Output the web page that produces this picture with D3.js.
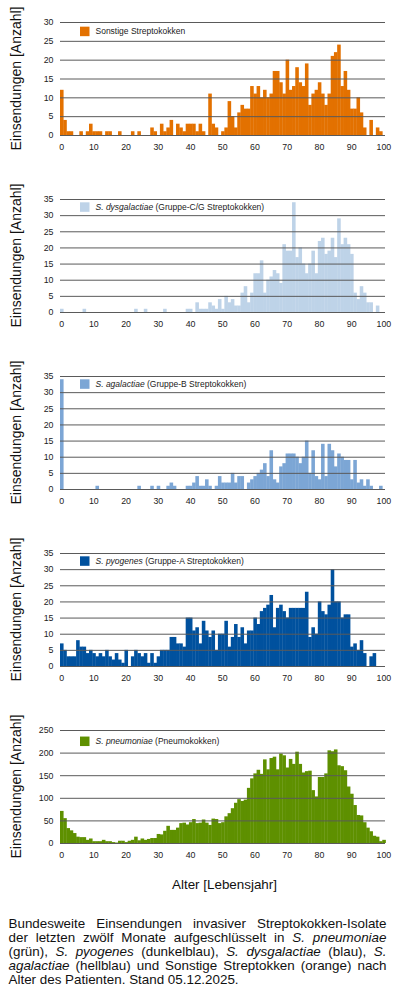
<!DOCTYPE html>
<html><head><meta charset="utf-8">
<script src="https://cdn.jsdelivr.net/npm/d3@7"></script>
<style>body{margin:0;background:#fff}svg{display:block}</style>
</head><body>
<svg id="c" width="400" height="997"></svg>
<script>
const ages = d3.range(0, 101);
const xTicks = [0,10,20,30,40,50,60,70,80,90,100];
const ticks30 = [0,5,10,15,20,25,30];
const ticks35 = [0,5,10,15,20,25,30,35];
const ticks250 = [0,50,100,150,200,250];

const sonstige = [12,4,1,1,0,0,1,0,1,3, 1,1,1,0,1,1,0,0,1,0, 0,0,1,0,1,0,0,0,2,1, 0,3,1,2,4,0,3,2,1,3, 3,3,1,3,1,0,11,3,2,0, 1,2,9,5,2,6,8,7,7,13, 11,13,10,12,10,11,17,17,14,11, 20,12,13,18,14,13,19,8,11,12, 14,11,8,11,21,22,24,13,17,12, 7,7,10,6,2,0,4,0,2,1, 0];
const dysgalactiae = [1,0,0,0,0,0,0,1,0,0, 0,0,0,0,0,0,0,0,0,0, 0,0,0,1,0,0,1,0,0,0, 0,0,1,0,0,0,0,0,0,1, 1,0,3,1,1,1,3,2,1,4, 1,5,3,4,2,2,6,8,3,6, 12,12,16,6,10,11,13,12,9,21, 19,19,34,17,20,15,12,15,19,12, 22,23,18,19,23,17,29,21,23,21, 18,6,4,8,6,3,3,0,2,0, 0];
const agalactiae = [34,0,0,0,0,0,0,0,0,0, 0,1,0,0,0,0,0,0,0,0, 0,0,0,0,1,0,0,0,1,0, 1,0,0,1,2,1,0,0,0,1, 1,2,4,1,1,3,1,0,1,4, 2,2,2,5,2,4,4,0,2,3, 4,5,6,8,4,12,3,2,7,8, 11,11,11,10,8,10,15,5,12,4, 3,14,4,14,12,7,11,10,9,9, 3,9,2,3,1,3,1,0,0,1, 0];
const pyogenes = [7,5,3,3,3,8,6,6,4,5, 4,3,4,3,5,3,2,4,2,1, 5,0,3,5,4,3,4,1,4,1, 3,5,5,5,9,9,7,7,6,15, 15,11,12,7,14,11,9,11,5,10, 10,14,6,9,13,9,12,7,11,11, 15,13,17,18,19,22,12,18,19,17, 15,18,18,18,18,18,23,9,12,10, 20,17,16,19,30,20,20,15,16,16, 6,7,5,8,4,0,3,4,0,0, 0];
const pneumoniae = [71,55,33,28,22,14,13,13,7,10, 4,4,4,7,4,4,2,1,5,5, 2,5,7,14,6,10,7,9,11,11, 20,19,27,38,29,29,34,44,45,41, 46,53,44,45,52,45,40,54,53,44, 46,59,66,77,89,97,93,96,122,143, 154,162,153,185,163,188,191,163,198,194, 167,186,175,202,175,156,159,160,117,103, 146,146,154,205,203,207,172,170,161,125, 109,84,62,61,46,34,26,16,14,4, 7];

const panels = [
  {data: sonstige,     color: '#E37100', max: 30,  ticks: ticks30,  it: '', rest: 'Sonstige Streptokokken'},
  {data: dysgalactiae, color: '#BED3E8', max: 35,  ticks: ticks35,  it: 'S. dysgalactiae', rest: ' (Gruppe-C/G Streptokokken)'},
  {data: agalactiae,   color: '#7CA6D5', max: 35,  ticks: ticks35,  it: 'S. agalactiae', rest: ' (Gruppe-B Streptokokken)'},
  {data: pyogenes,     color: '#00519E', max: 35,  ticks: ticks35,  it: 'S. pyogenes', rest: ' (Gruppe-A Streptokokken)'},
  {data: pneumoniae,   color: '#5E9000', max: 250, ticks: ticks250, it: 'S. pneumoniae', rest: ' (Pneumokokken)'}
];

const FONT = '"Liberation Sans", Arial, Helvetica, sans-serif';
const svg = d3.select('#c').style('font-family', FONT);
svg.append('rect').attr('width', 400).attr('height', 997).attr('fill', '#fff');

const x = d3.scaleBand().domain(ages).range([60, 385.5]).padding(0);
const gridL = 60, gridR = 385;

panels.forEach((p, k) => {
  const top = 22 + 177 * k, bottom = top + 113;
  const y = d3.scaleLinear().domain([0, p.max]).range([bottom, top]);
  const g = svg.append('g');

  g.append('g').selectAll('rect').data(ages).join('rect')
    .attr('x', a => x(a))
    .attr('width', x.bandwidth() + 0.35)
    .attr('y', a => y(p.data[a]))
    .attr('height', a => bottom - y(p.data[a]))
    .attr('fill', p.color);

  const ya = g.append('g').attr('transform', `translate(${gridL},0)`)
    .call(d3.axisLeft(y).tickValues(p.ticks).tickSize(-(gridR - gridL)).tickPadding(6.5));
  ya.select('.domain').remove();
  ya.selectAll('line').attr('stroke', '#5a5a5a').attr('stroke-width', 1);
  ya.selectAll('text').attr('font-family', FONT).attr('font-size', 8.8).attr('fill', '#222');

  const xa = g.append('g').attr('transform', `translate(0,${bottom})`)
    .call(d3.axisBottom(x).tickValues(xTicks).tickSize(0).tickPadding(8.5));
  xa.select('.domain').remove();
  xa.selectAll('text').attr('font-family', FONT).attr('font-size', 8.8).attr('fill', '#222');

  svg.append('text')
    .attr('transform', `translate(21,${(top + bottom) / 2}) rotate(-90)`)
    .attr('text-anchor', 'middle')
    .attr('font-size', 14).attr('fill', '#111')
    .text('Einsendungen [Anzahl]');

  const interval = (bottom - top) / (p.ticks.length - 1);
  const lc = top + interval / 2;
  svg.append('rect').attr('x', 80).attr('y', lc - 4.75).attr('width', 9.5).attr('height', 9.5).attr('fill', p.color);
  const lt = svg.append('text').attr('x', 95.5).attr('y', lc + 3).attr('font-size', 8.5).attr('fill', '#222');
  if (p.it) lt.append('tspan').attr('font-style', 'italic').text(p.it);
  lt.append('tspan').text(p.rest);
});

svg.append('text').attr('x', 224.5).attr('y', 889.3).attr('text-anchor', 'middle')
  .attr('font-size', 13.4).attr('fill', '#111').text('Alter [Lebensjahr]');

const captionLines = [
  'Bundesweite Einsendungen invasiver Streptokokken-Isolate',
  'der letzten zwölf Monate aufgeschlüsselt in _S. _pneumoniae',
  '(grün), _S. _pyogenes (dunkelblau), _S. _dysgalactiae (blau), _S.',
  '_agalactiae (hellblau) und Sonstige Streptokken (orange) nach',
  'Alter des Patienten. Stand 05.12.2025.'
];
const cFs = 13.4, cLeft = 8.5, cRight = 386.5, cBase = 927.7, cLh = 14.15;
captionLines.forEach((line, i) => {
  const words = line.split(' ');
  const yb = cBase + i * cLh;
  const nodes = words.map(w => {
    const it = w.startsWith('_');
    return svg.append('text').attr('y', yb).attr('font-size', cFs).attr('fill', '#111')
      .attr('font-style', it ? 'italic' : 'normal').text(it ? w.slice(1) : w);
  });
  const widths = nodes.map(n => n.node().getComputedTextLength());
  const total = d3.sum(widths);
  const last = i === captionLines.length - 1;
  const gap = last ? cFs * 0.278 : (cRight - cLeft - total) / (words.length - 1);
  let cx = cLeft;
  nodes.forEach((n, j) => { n.attr('x', cx); cx += widths[j] + gap; });
});
</script>
</body></html>
